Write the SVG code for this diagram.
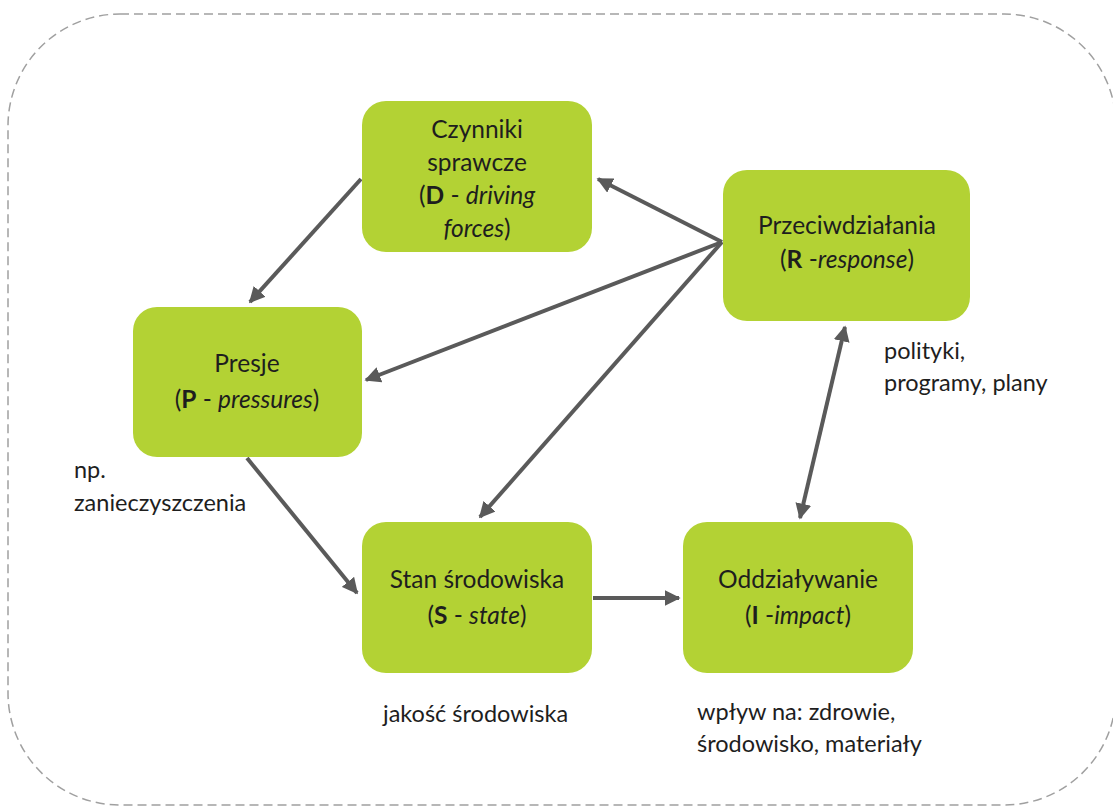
<svg xmlns="http://www.w3.org/2000/svg" width="1113" height="807" viewBox="0 0 1113 807">
<style>
.box{fill:#b3d234;}
.t{font-family:Lato,"Liberation Sans",sans-serif;font-size:24.5px;fill:#1e1e1e;text-anchor:middle;}
.a{font-family:Lato,"Liberation Sans",sans-serif;font-size:23.5px;fill:#1e1e1e;}
.b{font-weight:bold;}
.i{font-style:italic;}
.c{stroke:#5a5a5a;stroke-width:4;fill:none;}
</style>
<defs>
<marker id="ah" viewBox="0 0 10 10" refX="9" refY="5" markerWidth="4" markerHeight="4" orient="auto-start-reverse" markerUnits="strokeWidth">
<path d="M0,0 L10,5 L0,10 Z" fill="#5a5a5a"/>
</marker>
</defs>
<rect x="8" y="14" width="1108" height="791" rx="112" ry="112" fill="none" stroke="#a0a0a0" stroke-width="1.5" stroke-dasharray="9,5"/>
<g id="connectors">
<line class="c" x1="361" y1="179" x2="250" y2="302" marker-end="url(#ah)"/>
<line class="c" x1="722" y1="242" x2="598" y2="179" marker-end="url(#ah)"/>
<line class="c" x1="722" y1="242" x2="366" y2="380" marker-end="url(#ah)"/>
<line class="c" x1="722" y1="242" x2="480" y2="517" marker-end="url(#ah)"/>
<line class="c" x1="247" y1="458" x2="357" y2="593" marker-end="url(#ah)"/>
<line class="c" x1="593" y1="598" x2="679" y2="598" marker-end="url(#ah)"/>
<line class="c" x1="845" y1="327" x2="800" y2="518" marker-start="url(#ah)" marker-end="url(#ah)"/>
</g>
<g id="D">
<rect class="box" x="362" y="101" width="230" height="151" rx="24"/>
<text class="t" x="477" y="138">Czynniki</text>
<text class="t" x="477" y="171">sprawcze</text>
<text class="t" x="477" y="204">(<tspan class="b">D</tspan> - <tspan class="i">driving</tspan></text>
<text class="t" x="477" y="237"><tspan class="i">forces</tspan>)</text>
</g>
<g id="R">
<rect class="box" x="723" y="170" width="247" height="151" rx="24"/>
<text class="t" x="847" y="234">Przeciwdziałania</text>
<text class="t" x="847" y="268">(<tspan class="b">R</tspan> -<tspan class="i">response</tspan>)</text>
</g>
<g id="P">
<rect class="box" x="133" y="307" width="229" height="150" rx="24"/>
<text class="t" x="247" y="372">Presje</text>
<text class="t" x="247" y="408">(<tspan class="b">P</tspan> - <tspan class="i">pressures</tspan>)</text>
</g>
<g id="S">
<rect class="box" x="362" y="522" width="230" height="151" rx="24"/>
<text class="t" x="477" y="588">Stan środowiska</text>
<text class="t" x="477" y="624">(<tspan class="b">S</tspan> - <tspan class="i">state</tspan>)</text>
</g>
<g id="I">
<rect class="box" x="683" y="522" width="230" height="151" rx="24"/>
<text class="t" x="798" y="588">Oddziaływanie</text>
<text class="t" x="798" y="624">(<tspan class="b">I</tspan> -<tspan class="i">impact</tspan>)</text>
</g>
<g id="notes">
<text class="a" x="884" y="359">polityki,</text>
<text class="a" x="884" y="391">programy, plany</text>
<text class="a" x="74" y="478">np.</text>
<text class="a" x="74" y="511">zanieczyszczenia</text>
<text class="a" x="383" y="722">jakość środowiska</text>
<text class="a" x="697" y="720">wpływ na: zdrowie,</text>
<text class="a" x="697" y="752">środowisko, materiały</text>
</g>
</svg>
